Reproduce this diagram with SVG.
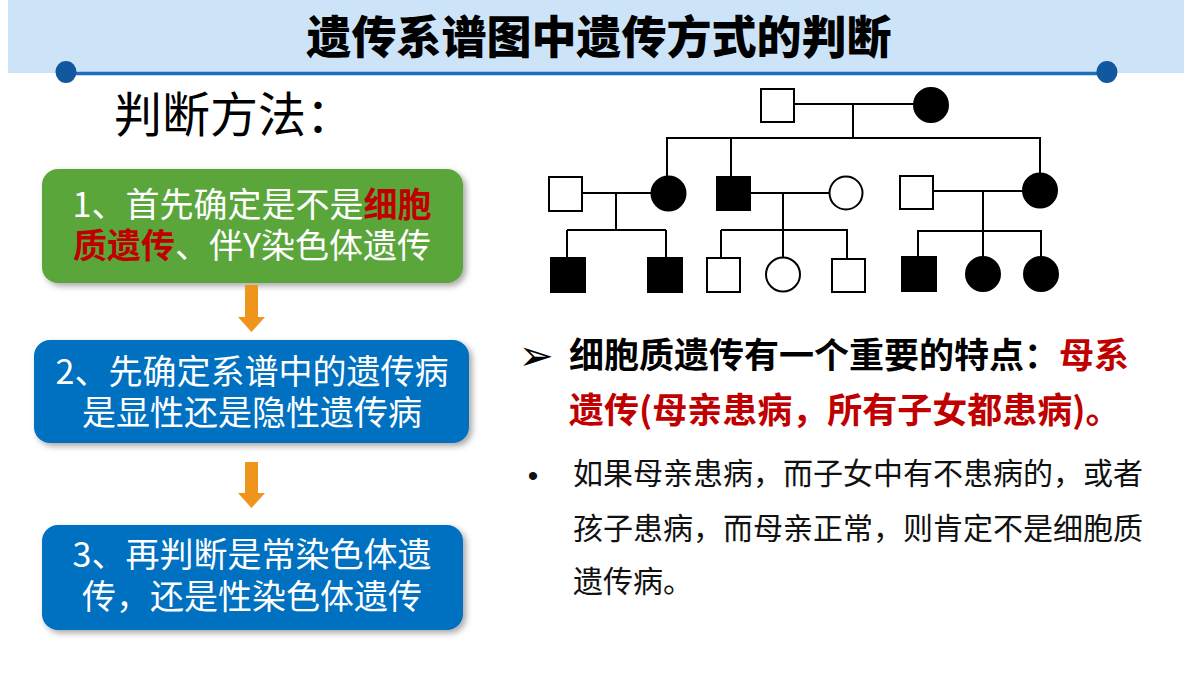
<svg xmlns="http://www.w3.org/2000/svg" width="1200" height="675" viewBox="0 0 1200 675">
  <defs>
    <filter id="shadow" x="-10%" y="-10%" width="125%" height="130%">
      <feDropShadow dx="3" dy="3" stdDeviation="3" flood-color="#000" flood-opacity="0.35"/>
    </filter>
    <style>
      .cjk { font-family: "Noto Sans CJK SC", "Noto Sans", sans-serif; }
      .boxtxt { font-size: 34px; fill: #ffffff; text-anchor: middle; }
      .red { fill: #C00000; font-weight: bold; }
      .ped { stroke: #000; stroke-width: 2; fill: none; }
      .open { fill: #fff; stroke: #000; stroke-width: 2; }
      .aff { fill: #000; stroke: #000; stroke-width: 2; }
      .arrow { fill: #F0951C; }
      .body { font-size: 30px; fill: #111; }
      .bold { font-size: 35px; font-weight: bold; fill: #000; }
      .bold .hl, .bold.hl { fill: #C00000; }
    </style>
  </defs>
  <rect width="1200" height="675" fill="#ffffff"/>

  <!-- Header -->
  <g id="header">
    <rect x="8" y="0" width="1176" height="73" fill="#CDE4F8"/>
    <line x1="66" y1="73.5" x2="1107" y2="73.5" stroke="#1F6BBE" stroke-width="3.5"/>
    <ellipse cx="66" cy="72" rx="10.5" ry="11" fill="#12589F"/>
    <ellipse cx="1107" cy="72" rx="10.5" ry="11" fill="#12589F"/>
    <text x="599" y="54" class="cjk" font-size="45" font-weight="900" text-anchor="middle" fill="#000">遗传系谱图中遗传方式的判断</text>
  </g>

  <g id="subtitle">
    <text x="114" y="132" class="cjk" font-size="48" fill="#000">判断方法：</text>
  </g>

  <!-- Left flow boxes -->
  <g id="step1">
    <rect x="42" y="169" width="421" height="114" rx="16" fill="#5AA63A" filter="url(#shadow)"/>
    <text x="252" y="217" class="cjk boxtxt">1、首先确定是不是<tspan class="red">细胞</tspan></text>
    <text x="252" y="258" class="cjk boxtxt"><tspan class="red">质遗传</tspan>、伴Y染色体遗传</text>
  </g>
  <g id="step2">
    <rect x="34" y="340" width="435" height="103" rx="16" fill="#0070C0" filter="url(#shadow)"/>
    <text x="252" y="384" class="cjk boxtxt">2、先确定系谱中的遗传病</text>
    <text x="252" y="425" class="cjk boxtxt">是显性还是隐性遗传病</text>
  </g>
  <g id="step3">
    <rect x="42" y="525" width="421" height="105" rx="16" fill="#0070C0" filter="url(#shadow)"/>
    <text x="252" y="567" class="cjk boxtxt">3、再判断是常染色体遗</text>
    <text x="252" y="609" class="cjk boxtxt">传，还是性染色体遗传</text>
  </g>

  <g id="connectors">
    <polygon class="arrow" points="245,285 258,285 258,317 265,317 251.5,332 238,317 245,317"/>
    <polygon class="arrow" points="245,462 258,462 258,493 265,493 251.5,508 238,493 245,493"/>
  </g>

  <!-- Pedigree -->
  <g id="pedigree-lines">
    <line class="ped" x1="794" y1="104" x2="914" y2="104"/>
    <line class="ped" x1="853" y1="104" x2="853" y2="138"/>
    <line class="ped" x1="666" y1="138" x2="1041" y2="138"/>
    <line class="ped" x1="667" y1="138" x2="667" y2="176"/>
    <line class="ped" x1="731" y1="138" x2="731" y2="176"/>
    <line class="ped" x1="1040" y1="138" x2="1040" y2="174"/>
    <line class="ped" x1="582" y1="193" x2="651" y2="193"/>
    <line class="ped" x1="616" y1="193" x2="616" y2="230"/>
    <line class="ped" x1="567" y1="230" x2="666" y2="230"/>
    <line class="ped" x1="567" y1="230" x2="567" y2="258"/>
    <line class="ped" x1="666" y1="230" x2="666" y2="258"/>
    <line class="ped" x1="750" y1="193" x2="829" y2="193"/>
    <line class="ped" x1="783" y1="193" x2="783" y2="257"/>
    <line class="ped" x1="721" y1="230" x2="848" y2="230"/>
    <line class="ped" x1="721" y1="230" x2="721" y2="258"/>
    <line class="ped" x1="847" y1="230" x2="847" y2="259"/>
    <line class="ped" x1="933" y1="191" x2="1023" y2="191"/>
    <line class="ped" x1="983" y1="191" x2="983" y2="257"/>
    <line class="ped" x1="917" y1="231" x2="1042" y2="231"/>
    <line class="ped" x1="918" y1="231" x2="918" y2="257"/>
    <line class="ped" x1="1041" y1="231" x2="1041" y2="257"/>
  </g>
  <g id="p-I1"><rect class="open" x="761" y="89" width="33" height="33"/></g>
  <g id="p-I2"><circle class="aff" cx="931" cy="105" r="17"/></g>
  <g id="p-II1"><rect class="open" x="549" y="177" width="33" height="34"/></g>
  <g id="p-II2"><circle class="aff" cx="668.5" cy="193.5" r="17"/></g>
  <g id="p-II3"><rect class="aff" x="717" y="177" width="33" height="33"/></g>
  <g id="p-II4"><circle class="open" cx="846" cy="193" r="16.5"/></g>
  <g id="p-II5"><rect class="open" x="900" y="176" width="33" height="33"/></g>
  <g id="p-II6"><circle class="aff" cx="1040" cy="190.5" r="17"/></g>
  <g id="p-III1"><rect class="aff" x="551" y="258" width="34" height="34"/></g>
  <g id="p-III2"><rect class="aff" x="648" y="258" width="34" height="34"/></g>
  <g id="p-III3"><rect class="open" x="707" y="258" width="33" height="34"/></g>
  <g id="p-III4"><circle class="open" cx="783" cy="274.5" r="17"/></g>
  <g id="p-III5"><rect class="open" x="832" y="259" width="33" height="33"/></g>
  <g id="p-III6"><rect class="aff" x="902" y="257" width="34" height="34"/></g>
  <g id="p-III7"><circle class="aff" cx="983" cy="274" r="17"/></g>
  <g id="p-III8"><circle class="aff" cx="1041" cy="274" r="17"/></g>

  <!-- Right text -->
  <g id="feature">
    <text x="536" y="370" font-family="DejaVu Sans, sans-serif" font-size="42" text-anchor="middle" fill="#000">➢</text>
    <text x="569" y="368" class="cjk bold">细胞质遗传有一个重要的特点：<tspan class="hl">母系</tspan></text>
    <text x="569" y="423" class="cjk bold hl">遗传(母亲患病，所有子女都患病)。</text>
  </g>
  <g id="note">
    <text x="533" y="486" font-family="Liberation Sans, sans-serif" font-size="30" text-anchor="middle" fill="#111">•</text>
    <text x="573" y="484" class="cjk body">如果母亲患病，而子女中有不患病的，或者</text>
    <text x="573" y="539" class="cjk body">孩子患病，而母亲正常，则肯定不是细胞质</text>
    <text x="573" y="592" class="cjk body">遗传病。</text>
  </g>
</svg>
